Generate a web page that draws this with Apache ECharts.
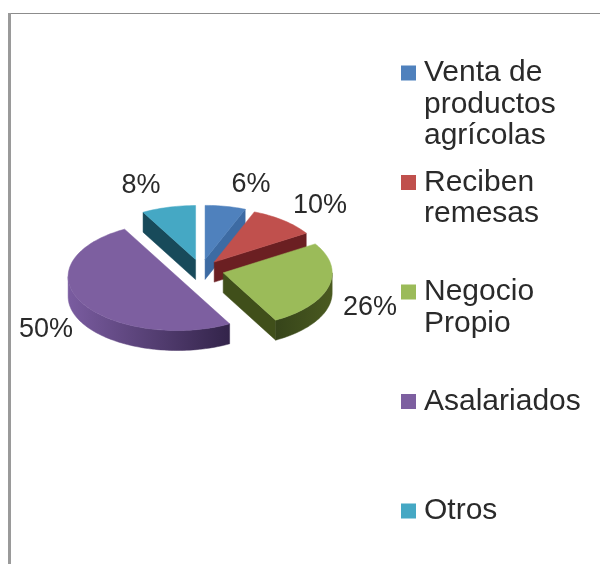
<!DOCTYPE html>
<html>
<head>
<meta charset="utf-8">
<style>
  html, body { margin: 0; padding: 0; background: #fff; }
  #main { width: 600px; height: 564px; }
</style>
<script src="https://cdn.jsdelivr.net/npm/echarts@6/dist/echarts.min.js"></script>
</head>
<body>
<div id="main"></div>
<script>
const categories = ['Venta de\nproductos\nagrícolas', 'Reciben\nremesas', 'Negocio\nPropio', 'Asalariados', 'Otros'];
const shares = [6, 10, 26, 50, 8];
const topColors = ['#4f81bd', '#c0504d', '#9bbb59', '#7d5fa0', '#45a8c4'];
const faceColors = ['#3d6ba3', '#6b1f22', '#404f1a', '#3a2a55', '#184a5a'];
const wallStops = [['#3d6ba3', '#3d6ba3'], ['#6b1f22', '#6b1f22'], ['#36441a', '#4a5a20'], ['#7a5ca0', '#33244a'], ['#184a5a', '#184a5a']];

// layout of the tilted pie
const cx = 201, cy = 270, rx = 109, ry = 54, depth = 20;
const explode = [0.2, 0.19, 0.21, 0.25, 0.2];
const labelCenters = [[251, 185], [320, 206], [370, 308], [46, 330], [141, 186]];
const legendLeft = 401, legendFirstY = 73, legendStep = 109.5, lineH = 31.5;

const total = shares.reduce((a, b) => a + b, 0);

function angleAt(i) {
  let sum = 0;
  for (let k = 0; k < i; k++) sum += shares[k];
  return sum / total * Math.PI * 2;
}
function pt(ox, oy, a, dy) {
  return [ox + rx * Math.sin(a), oy - ry * Math.cos(a) + (dy || 0)];
}
function arc(ox, oy, a0, a1, dy) {
  const pts = [];
  const n = Math.max(2, Math.ceil((a1 - a0) / 0.03));
  for (let k = 0; k <= n; k++) pts.push(pt(ox, oy, a0 + (a1 - a0) * k / n, dy));
  return pts;
}

function renderSlice(params) {
  const i = params.seriesIndex;
  const a0 = angleAt(i), a1 = angleAt(i + 1), mid = (a0 + a1) / 2;
  const ox = cx + explode[i] * rx * Math.sin(mid);
  const oy = cy - explode[i] * ry * Math.cos(mid);
  const children = [];
  const poly = (points, fill) => children.push({
    type: 'polygon', shape: { points }, style: { fill, stroke: fill, lineWidth: 0.5 }
  });

  // cut faces that look towards the viewer
  if (Math.sin(a0) < -0.001) {
    const p = pt(ox, oy, a0);
    poly([[ox, oy], p, [p[0], p[1] + depth], [ox, oy + depth]], faceColors[i]);
  }
  if (Math.sin(a1) > 0.001) {
    const p = pt(ox, oy, a1);
    poly([[ox, oy], p, [p[0], p[1] + depth], [ox, oy + depth]], faceColors[i]);
  }
  // outer wall, front half only
  const w0 = Math.max(a0, Math.PI / 2), w1 = Math.min(a1, Math.PI * 1.5);
  if (w1 > w0) {
    const upper = arc(ox, oy, w0, w1, 0);
    const lower = arc(ox, oy, w0, w1, depth).reverse();
    poly(upper.concat(lower), new echarts.graphic.LinearGradient(0, 0, 1, 0, [
      { offset: 0, color: wallStops[i][0] },
      { offset: 1, color: wallStops[i][1] }
    ]));
  }
  // top of the slice
  poly([[ox, oy]].concat(arc(ox, oy, a0, a1, 0)), topColors[i]);

  children.push({
    type: 'text',
    style: {
      x: labelCenters[i][0], y: labelCenters[i][1],
      text: shares[i] + '%',
      fill: '#2a2a2a',
      font: '27px "Liberation Sans"',
      align: 'center', verticalAlign: 'middle'
    }
  });
  return { type: 'group', children };
}

const chart = echarts.init(document.getElementById('main'), null, { renderer: 'canvas' });
chart.setOption({
  animation: false,
  backgroundColor: '#fff',
  color: topColors,
  graphic: [
    { type: 'line', shape: { x1: 8, y1: 13.5, x2: 600, y2: 13.5 }, style: { stroke: '#8c8c8c', lineWidth: 1 } },
    { type: 'line', shape: { x1: 9.5, y1: 13, x2: 9.5, y2: 564 }, style: { stroke: '#9a9a9a', lineWidth: 3 } }
  ],
  legend: categories.map((name, i) => {
    const n = name.split('\n').length;
    return {
      data: [name],
      left: legendLeft,
      // blank lines above the name keep the swatch level with its first line
      top: legendFirstY + legendStep * i - (2 * n - 1) * lineH / 2,
      padding: 0,
      // swatch is 15 wide, the stray point widens the icon box to set the gap to the text
      icon: 'path://M0 0H15V15H0ZM18 15V15Z',
      itemWidth: 18,
      itemHeight: 15,
      itemGap: 0,
      selectedMode: false,
      formatter: (s) => '\n'.repeat(n - 1) + s,
      textStyle: {
        fontFamily: '"Liberation Sans"',
        fontSize: 30,
        lineHeight: lineH,
        color: '#2a2a2a'
      }
    };
  }),
  series: categories.map((name, i) => ({
    type: 'custom',
    name,
    coordinateSystem: 'none',
    silent: true,
    renderItem: renderSlice,
    data: [shares[i]]
  }))
});
</script>
</body>
</html>
